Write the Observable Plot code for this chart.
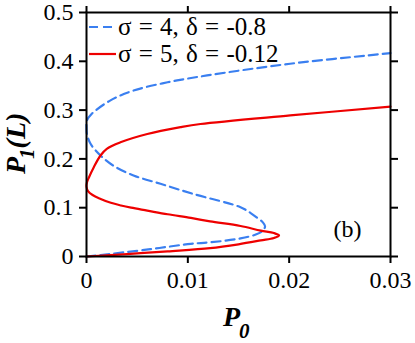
<!DOCTYPE html>
<html><head><meta charset="utf-8">
<script src="https://cdn.jsdelivr.net/npm/d3@7"></script>
<script src="https://cdn.jsdelivr.net/npm/@observablehq/plot@0.6"></script>
<style>
body{margin:0;background:#fff}
#chart svg, #chart svg text { font-family: 'Liberation Serif', 'Times New Roman', serif !important; }
</style>
</head><body><div id="chart"></div>
<script>
const xTicks = [0, 0.01, 0.02, 0.03];
const xTickLabels = ["0", "0.01", "0.02", "0.03"];
const yTicks = [0, 0.1, 0.2, 0.3, 0.4, 0.5];
const yTickLabels = ["0", "0.1", "0.2", "0.3", "0.4", "0.5"];
const seriesNames = ["σ = 4, δ = -0.8", "σ = 5, δ = -0.12"];

// σ = 4, δ = -0.8 (blue dashed)
const P0_s4 = [0, 0.0014, 0.0063, 0.0103, 0.0122, 0.0152, 0.0167, 0.0174, 0.01762, 0.0174, 0.0168, 0.0162, 0.0152, 0.01056, 0.0073, 0.00464, 0.00266, 0.00138, 0.0004, 0.00005, 0, 0.00003, 0.0005, 0.00237, 0.00464, 0.008, 0.0119, 0.0201, 0.03];
const P1_s4 = [0, 0.003, 0.015, 0.026, 0.029, 0.037, 0.045, 0.053, 0.062, 0.070, 0.080, 0.089, 0.101, 0.128, 0.149, 0.166, 0.186, 0.207, 0.231, 0.250, 0.265, 0.278, 0.292, 0.320, 0.340, 0.357, 0.371, 0.395, 0.4166];

// σ = 5, δ = -0.12 (red solid)
const P0_s5 = [0, 0.004, 0.008, 0.0122, 0.015, 0.0172, 0.0185, 0.019, 0.0185, 0.0172, 0.0152, 0.0122, 0.0103, 0.0080, 0.006, 0.0044, 0.0034, 0.0024, 0.0014, 0.0006, 0.00015, 0, 0.00005, 0.00025, 0.00072, 0.00138, 0.002, 0.00335, 0.006, 0.00928, 0.01125, 0.0201, 0.03];
const P1_s5 = [0, 0.005, 0.0105, 0.017, 0.025, 0.033, 0.038, 0.043, 0.048, 0.053, 0.0625, 0.072, 0.079, 0.0865, 0.094, 0.100, 0.1045, 0.110, 0.118, 0.126, 0.134, 0.143, 0.152, 0.1625, 0.183, 0.207, 0.2207, 0.234, 0.251, 0.265, 0.2715, 0.289, 0.307];

const colors = ["#3a7ff0", "#ee0000"];

const s4 = P0_s4.map((x, i) => ({P0: x, P1: P1_s4[i]}));
const s5 = P0_s5.map((x, i) => ({P0: x, P1: P1_s5[i]}));

const font = "'Liberation Serif', 'Times New Roman', serif";
const fs = 24;

const plot = Plot.plot({
  width: 415, height: 343,
  marginLeft: 86, marginRight: 25, marginTop: 12, marginBottom: 87,
  style: {fontFamily: font, fontSize: fs + "px", color: "#000", background: "#fff", overflow: "visible"},
  x: {domain: [0, 0.03]},
  y: {domain: [0, 0.5]},
  marks: [
    Plot.line(s4, {x: "P0", y: "P1", stroke: colors[0], strokeWidth: 2.2, strokeDasharray: "9,5", curve: "catmull-rom"}),
    Plot.line(s5, {x: "P0", y: "P1", stroke: colors[1], strokeWidth: 2.2, curve: "catmull-rom"}),
    Plot.frame({stroke: "#000", strokeWidth: 2}),
    Plot.axisX({anchor: "bottom", ticks: xTicks, tickFormat: d => xTickLabels[xTicks.indexOf(d)], tickSize: 7, tickPadding: 7, strokeWidth: 2, label: null, fontSize: fs, fontFamily: font}),
    Plot.axisX({anchor: "top", ticks: xTicks, tickFormat: () => "", tickSize: 7, strokeWidth: 2, label: null}),
    Plot.axisY({anchor: "left", ticks: yTicks, tickFormat: d => yTickLabels[yTicks.indexOf(d)], tickSize: 7, tickPadding: 6, strokeWidth: 2, label: null, fontSize: fs, fontFamily: font}),
    Plot.axisY({anchor: "right", ticks: yTicks, tickFormat: () => "", tickSize: 7, strokeWidth: 2, label: null}),
    Plot.text(["(b)"], {frameAnchor: "bottom-right", dx: -29, dy: -20, fontSize: fs, fontFamily: font, textAnchor: "end", fill: "#000"})
  ]
});

const svg = d3.select(plot);
// legend
const leg = svg.append("g").attr("text-anchor", "start");
seriesNames.forEach((name, i) => {
  const y = 27 + i * 27;
  leg.append("line").attr("x1", 89).attr("x2", 116).attr("y1", y).attr("y2", y)
    .attr("stroke", colors[i]).attr("stroke-width", 2.2)
    .attr("stroke-dasharray", i === 0 ? "9,5" : null);
  leg.append("text").attr("x", 118).attr("y", y + 8)
    .attr("font-family", font).attr("font-size", 25).attr("fill", "#000")
    .attr("text-anchor", "start").attr("word-spacing", 1)
    .text(name);
});
// x label
const xl = svg.append("text").attr("x", 223).attr("y", 326).attr("text-anchor", "start")
  .attr("font-family", font).attr("font-size", 28).attr("font-weight", "bold").attr("font-style", "italic").attr("fill", "#000");
xl.append("tspan").text("P");
xl.append("tspan").attr("dx", -1).attr("dy", 12).attr("font-size", 21).text("0");
// y label
const yl = svg.append("text").attr("transform", "translate(25,174) rotate(-90)").attr("text-anchor", "start")
  .attr("font-family", font).attr("font-size", 28).attr("font-weight", "bold").attr("font-style", "italic").attr("fill", "#000");
yl.append("tspan").text("P");
yl.append("tspan").attr("dx", -2).attr("dy", 9).attr("font-size", 21).text("1");
yl.append("tspan").attr("dy", -9).text("(L)");

document.getElementById("chart").appendChild(plot);
</script>
</body></html>
